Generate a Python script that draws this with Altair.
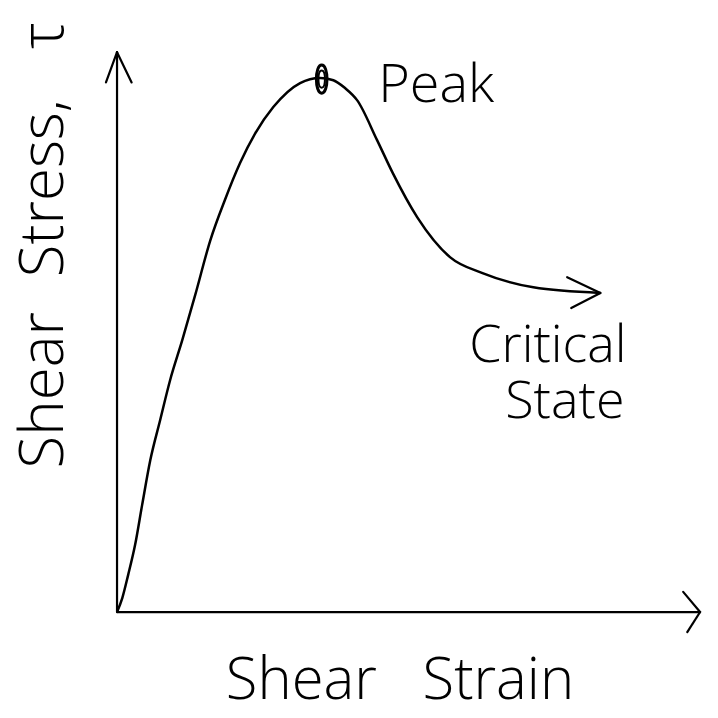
import altair as alt
import pandas as pd

# Curve (strain, stress in arbitrary units; axes span 0..100)
strain = [0, 0.9, 1.9, 3.1, 4.3, 5.7, 7.4, 9.1, 11.2, 13.4, 16.0, 18.5, 21.1, 23.7,
          26.8, 31.4, 34.8, 37.1, 39.1, 41.2, 44.6, 47.3, 51.5, 57.1, 62.8, 71.4, 82.9]
stress = [0, 2.5, 6.6, 12.0, 19.1, 27.1, 34.3, 41.4, 48.6, 56.6, 66.4, 73.6, 80.2, 85.5,
          90.2, 94.5, 95.4, 95.0, 93.6, 91.4, 84.3, 78.4, 70.5, 63.4, 60.5, 58.0, 57.0]

# Axis arrows and arrowheads (segments: x, y, x2, y2)
seg_x = [0, 0, -1.9, 2.5, 97.1, 97.8, 77.2, 77.9]
seg_y = [0, 0, 94.6, 94.6, 3.6, -3.6, 59.8, 54.3]
seg_x2 = [100, 0, 0, 0, 100, 100, 82.9, 82.9]
seg_y2 = [0, 100, 100, 100, 0, 0, 57.0, 57.0]

peak_strain = [35.1]
peak_stress = [95.2]

label_text = ["Peak", "Critical", "State"]
label_x = [44.8, 73.9, 76.8]
label_y = [91.1, 44.6, 34.6]
label_align = ["left", "center", "center"]

xlabel_text = ["Shear", "Strain"]
xlabel_x = [31.6, 65.4]
xlabel_y = [-15.5, -15.5]
ylabel_text = ["Shear", "Stress,", "τ"]
ylabel_x = [-12.3, -12.3, -12.3]
ylabel_y = [39.6, 75.7, 103.0]

FONT = "Open Sans"
xs = alt.Scale(domain=[-18.7, 101.7], nice=False, zero=False)
ys = alt.Scale(domain=[-17.5, 107.9], nice=False, zero=False)

curve_df = pd.DataFrame({"strain": strain, "stress": stress, "order": list(range(len(strain)))})
seg_df = pd.DataFrame({"x": seg_x, "y": seg_y, "x2": seg_x2, "y2": seg_y2})
peak_df = pd.DataFrame({"x": peak_strain, "y": peak_stress})
lab_df = pd.DataFrame({"t": label_text, "x": label_x, "y": label_y, "a": label_align})

X = lambda f: alt.X(f, scale=xs, axis=None)
Y = lambda f: alt.Y(f, scale=ys, axis=None)

curve = alt.Chart(curve_df).mark_line(color="black", strokeWidth=2.5, interpolate="monotone").encode(
    x=X("strain:Q"), y=Y("stress:Q"), order="order:Q",
)

segs = alt.Chart(seg_df).mark_rule(color="black", strokeWidth=2.2, strokeCap="round").encode(
    x=X("x:Q"), y=Y("y:Q"), x2="x2:Q", y2="y2:Q",
)

ELLIPSE = "M0,-1 C0.5,-1 0.5,1 0,1 C-0.5,1 -0.5,-1 0,-1 Z"
peak = alt.Chart(peak_df).mark_point(
    shape=ELLIPSE, filled=False, color="black", strokeWidth=3, size=800, opacity=1,
).encode(x=X("x:Q"), y=Y("y:Q"))

peak_inner = alt.Chart(peak_df).mark_point(
    shape=ELLIPSE, filled=False, color="black", strokeWidth=2, size=300, opacity=1,
).encode(x=X("x:Q"), y=Y("y:Q"))

left_labels = alt.Chart(lab_df[lab_df.a == "left"]).mark_text(
    font=FONT, fontSize=54, fontWeight=300, align="left", baseline="alphabetic", color="black"
).encode(x=X("x:Q"), y=Y("y:Q"), text="t:N")

center_labels = alt.Chart(lab_df[lab_df.a == "center"]).mark_text(
    font=FONT, fontSize=52, fontWeight=300, align="center", baseline="alphabetic", color="black"
).encode(x=X("x:Q"), y=Y("y:Q"), text="t:N")

xlab = alt.Chart(pd.DataFrame({"t": xlabel_text, "x": xlabel_x, "y": xlabel_y})).mark_text(
    font=FONT, fontSize=58, fontWeight=300, align="center", baseline="alphabetic", color="black"
).encode(x=X("x:Q"), y=Y("y:Q"), text="t:N")

ylab = alt.Chart(pd.DataFrame({"t": ylabel_text, "x": ylabel_x, "y": ylabel_y})).mark_text(
    font=FONT, fontSize=60, fontWeight=300, align="center", baseline="middle", angle=270, color="black"
).encode(x=X("x:Q"), y=Y("y:Q"), text="t:N")

chart = alt.layer(segs, curve, peak, peak_inner, left_labels, center_labels, xlab, ylab).properties(
    width=702, height=702, autosize=alt.AutoSizeParams(type="none"), padding=0,
    background="white",
).configure_view(stroke=None)

chart.save("out.html", embed_options={"renderer": "svg", "actions": False})
